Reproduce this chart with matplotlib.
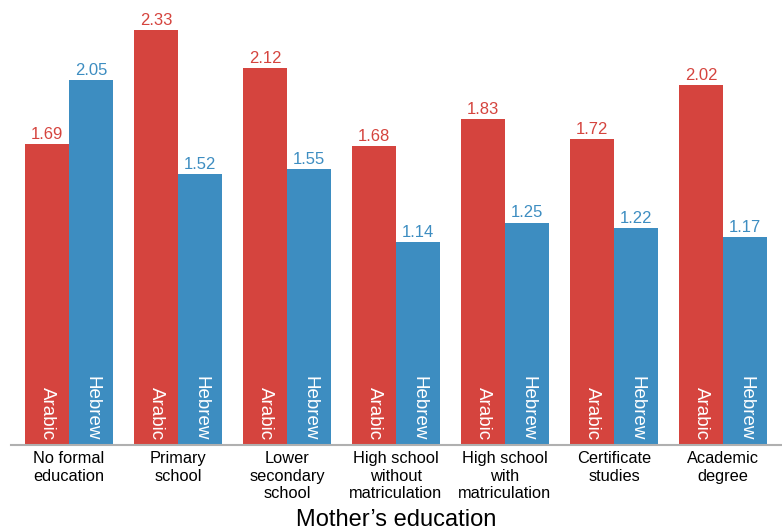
import matplotlib
matplotlib.use("Agg")
import matplotlib.pyplot as plt
import numpy as np

categories = ["No formal\neducation", "Primary\nschool", "Lower\nsecondary\nschool",
              "High school\nwithout\nmatriculation", "High school\nwith\nmatriculation",
              "Certificate\nstudies", "Academic\ndegree"]
arabic = [1.69, 2.33, 2.12, 1.68, 1.83, 1.72, 2.02]
hebrew = [2.05, 1.52, 1.55, 1.14, 1.25, 1.22, 1.17]
series_names = ["Arabic", "Hebrew"]

RED = "#d5443e"
BLUE = "#3d8dc1"

plt.rcParams['font.family'] = ['Liberation Sans', 'DejaVu Sans']

fig = plt.figure(figsize=(7.82, 5.32), dpi=100)
ax = fig.add_axes([11/782, 87/532, 1 - 11/782, 445/532])

x = np.arange(len(categories))
w = 44/109
for vals, off, col, name in [(arabic, -w/2, RED, series_names[0]), (hebrew, w/2, BLUE, series_names[1])]:
    ax.bar(x + off, vals, width=w, color=col, linewidth=0)
    for xi, v in zip(x + off, vals):
        ax.text(xi, v + 0.012, f"{v:.2f}", color=col, ha="center", va="bottom", fontsize=12)
        ax.text(xi + 0.005, 0.028, name, color="white", ha="center", va="bottom", rotation=270, fontsize=13.5)

ax.set_xlim((11-69)/109, (782-69)/109)
ax.set_ylim(0, 2.5)
ax.set_yticks([])
ax.set_xticks(x)
ax.set_xticklabels(categories, fontsize=11.8, linespacing=1.2, va="top")
ax.tick_params(axis="x", length=0, pad=4.5)
for s in ["top", "right", "left"]:
    ax.spines[s].set_visible(False)
ax.spines["bottom"].set_color("#b0b0b0")
ax.spines["bottom"].set_linewidth(1.5)
ax.set_xlabel("Mother\u2019s education", fontsize=17, labelpad=5.5)
ax.patch.set_alpha(0)

fig.savefig("out.png", dpi=100)
